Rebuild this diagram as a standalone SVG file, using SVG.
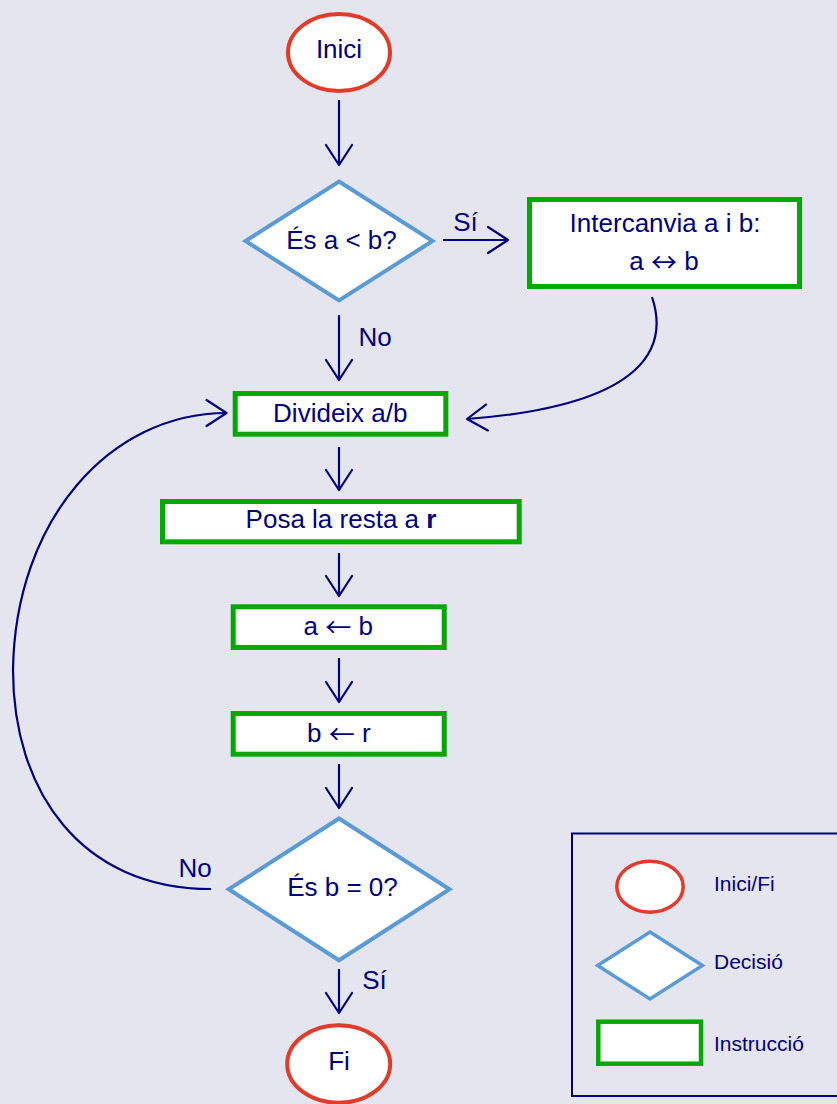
<svg xmlns="http://www.w3.org/2000/svg" width="837" height="1104" viewBox="0 0 837 1104">
<defs>
<marker id="arr" markerUnits="userSpaceOnUse" viewBox="-22 -15 24 30" markerWidth="24" markerHeight="30" refX="0" refY="0" orient="auto" overflow="visible">
<path d="M-20,-13 L0,0 L-20,13" fill="none" stroke="#000080" stroke-width="2.2" stroke-linecap="round" stroke-linejoin="round"/>
</marker>
<style>
.t{font-family:"Liberation Sans",Arial,Helvetica,sans-serif;font-size:26px;fill:#000080;text-anchor:middle}
.lg{font-size:21px;text-anchor:start}
.ar{font-family:"Noto Sans CJK JP","Noto Sans CJK SC","DejaVu Sans",sans-serif}
.term{fill:#fff;stroke:#E33A2A;stroke-width:4}
.dec{fill:#fff;stroke:#5B9BD5;stroke-width:4}
.ins{fill:#fff;stroke:#00AA00;stroke-width:5}
.c{fill:none;stroke:#000080;stroke-width:2.2;marker-end:url(#arr)}
</style>
</defs>
<rect width="837" height="1104" fill="#E5E5F0"/>

<g id="connectors">
<path class="c" d="M339,100 L339,165"/>
<path class="c" d="M443,240 L508,240"/>
<path class="c" d="M339,315 L339,380"/>
<path class="c" d="M652,297 C668,345 650,405 467,419"/>
<path class="c" d="M339,447 L339,490"/>
<path class="c" d="M339,553 L339,596"/>
<path class="c" d="M339,658 L339,702"/>
<path class="c" d="M339,764 L339,808"/>
<path class="c" d="M339,969 L339,1013"/>
<path class="c" d="M211,889 C80,889 13,790 13,670 C15,520 110,413 226.5,413"/>
<text class="t" x="465.5" y="231">Sí</text>
<text class="t" x="375" y="345.5">No</text>
<text class="t" x="195" y="876.5">No</text>
<text class="t" x="374.5" y="988.5">Sí</text>
</g>

<g id="inici">
<ellipse class="term" cx="339" cy="52.5" rx="51" ry="38.5"/>
<text class="t" x="339" y="57.5">Inici</text>
</g>

<g id="decisio1">
<polygon class="dec" points="339,181.5 432.5,241 339,300.5 245.5,241"/>
<text class="t" x="341.5" y="248.5">És a &lt; b?</text>
</g>

<g id="intercanvia">
<rect class="ins" x="529.5" y="199.5" width="270" height="87"/>
<text class="t" x="665" y="232">Intercanvia a i b:</text>
<text class="t" x="664" y="270">a <tspan class="ar" dy="2">↔</tspan><tspan dy="-2"> b</tspan></text>
</g>

<g id="divideix">
<rect class="ins" x="235.2" y="393.5" width="210.6" height="40.7"/>
<text class="t" x="340.3" y="421.7">Divideix a/b</text>
</g>

<g id="posa">
<rect class="ins" x="162.5" y="501.5" width="356.7" height="40.3"/>
<text class="t" x="341" y="528.3">Posa la resta a <tspan font-weight="bold">r</tspan></text>
</g>

<g id="assigna-a">
<rect class="ins" x="233.2" y="606.8" width="211" height="40.7"/>
<text class="t" x="338.3" y="635">a <tspan class="ar" dy="2">←</tspan><tspan dy="-2"> b</tspan></text>
</g>

<g id="assigna-b">
<rect class="ins" x="233.2" y="713.5" width="211" height="40.7"/>
<text class="t" x="338.8" y="742.3">b <tspan class="ar" dy="2">←</tspan><tspan dy="-2"> r</tspan></text>
</g>

<g id="decisio2">
<polygon class="dec" points="339,818.5 449.5,889.3 339,960.3 228.7,889.3"/>
<text class="t" x="342.5" y="896">És b = 0?</text>
</g>

<g id="fi">
<ellipse class="term" cx="338.7" cy="1064" rx="51.5" ry="38.8"/>
<text class="t" x="339" y="1070">Fi</text>
</g>

<g id="llegenda">
<rect x="572" y="833.5" width="270" height="262.5" fill="none" stroke="#000080" stroke-width="2"/>
<ellipse class="term" cx="650" cy="886.7" rx="33.2" ry="25.5" style="stroke-width:3.5"/>
<text class="t lg" x="714" y="891">Inici/Fi</text>
<polygon class="dec" points="650,932.1 702.4,965.5 650,998.9 597.6,965.5" style="stroke-width:3.5"/>
<text class="t lg" x="714" y="969.3">Decisió</text>
<rect class="ins" x="598.3" y="1021.7" width="102.7" height="42" style="stroke-width:4.5"/>
<text class="t lg" x="714" y="1050.7">Instrucció</text>
</g>
</svg>
